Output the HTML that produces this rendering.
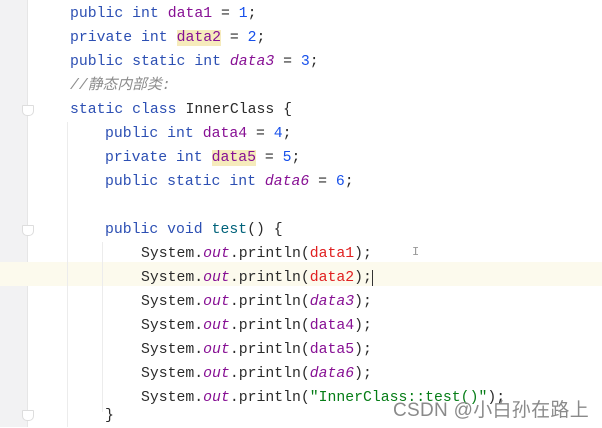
<!DOCTYPE html>
<html><head><meta charset="utf-8"><style>
body{margin:0;width:602px;height:427px;background:#fff;position:relative;overflow:hidden;font-family:"Liberation Mono",monospace;}
.g{position:absolute;left:0;top:0;width:27px;height:427px;background:#f2f2f3;border-right:1px solid #e6e6e6}
.hl{position:absolute;left:0;top:262px;width:602px;height:24px;background:#fcfaed}
.ig{position:absolute;width:1px;background:#ececec}
.l{position:absolute;font-size:14.8px;line-height:24px;white-space:pre;color:#2b2b2b}
.k{color:#2c4fb3}.f{color:#871094}.fi{color:#871094;font-style:italic}.n{color:#1750eb}
.c{color:#8c8c8c;font-style:italic}.r{color:#e02020}.s{color:#067d17}.m{color:#00627a}
.h{background:#f6ebbc}
.fold{position:absolute;left:22px;width:10px;height:9px;background:#fff;border:1px solid #ddd;border-radius:1px 1px 5px 5px}
.wm{position:absolute;left:393px;top:395px;font-family:"Liberation Sans","Noto Sans CJK SC",sans-serif;font-size:19px;letter-spacing:0.3px;color:#8a8a8a}
</style></head><body>
<div class="g"></div>
<div class="hl"></div>
<div class="ig" style="left:67px;top:122px;height:305px"></div>
<div class="ig" style="left:102px;top:242px;height:170px"></div>
<div class="fold" style="top:105px"></div>
<div class="fold" style="top:225px"></div>
<div class="fold" style="top:410px"></div>
<div class="l" style="left:70px;top:2px"><span class="k">public int </span><span class="f">data1</span> = <span class="n">1</span>;</div>
<div class="l" style="left:70px;top:26px"><span class="k">private int </span><span class="f h">data2</span> = <span class="n">2</span>;</div>
<div class="l" style="left:70px;top:50px"><span class="k">public static int </span><span class="fi">data3</span> = <span class="n">3</span>;</div>
<div class="l c" style="left:70px;top:74px;font-family:'Liberation Mono','Noto Sans CJK SC',monospace">//静态内部类:</div>
<div class="l" style="left:70px;top:98px"><span class="k">static class </span>InnerClass {</div>
<div class="l" style="left:105px;top:122px"><span class="k">public int </span><span class="f">data4</span> = <span class="n">4</span>;</div>
<div class="l" style="left:105px;top:146px"><span class="k">private int </span><span class="f h">data5</span> = <span class="n">5</span>;</div>
<div class="l" style="left:105px;top:170px"><span class="k">public static int </span><span class="fi">data6</span> = <span class="n">6</span>;</div>
<div class="l" style="left:105px;top:218px"><span class="k">public void </span><span class="m">test</span>() {</div>
<div class="l" style="left:141px;top:242px">System.<span class="fi">out</span>.println(<span class="r">data1</span>);</div>
<div class="l" style="left:141px;top:266px">System.<span class="fi">out</span>.println(<span class="r">data2</span>);<span style="border-left:1px solid #333"></span></div>
<div class="l" style="left:141px;top:290px">System.<span class="fi">out</span>.println(<span class="fi">data3</span>);</div>
<div class="l" style="left:141px;top:314px">System.<span class="fi">out</span>.println(<span class="f">data4</span>);</div>
<div class="l" style="left:141px;top:338px">System.<span class="fi">out</span>.println(<span class="f">data5</span>);</div>
<div class="l" style="left:141px;top:362px">System.<span class="fi">out</span>.println(<span class="fi">data6</span>);</div>
<div class="l" style="left:141px;top:386px">System.<span class="fi">out</span>.println(<span class="s">"InnerClass::test()"</span>);</div>
<div class="l" style="left:105px;top:404px">}</div>
<div class="l" style="left:412px;top:240px;color:#999;font-size:12px">I</div>
<div class="wm">CSDN @小白孙在路上</div>
</body></html>
